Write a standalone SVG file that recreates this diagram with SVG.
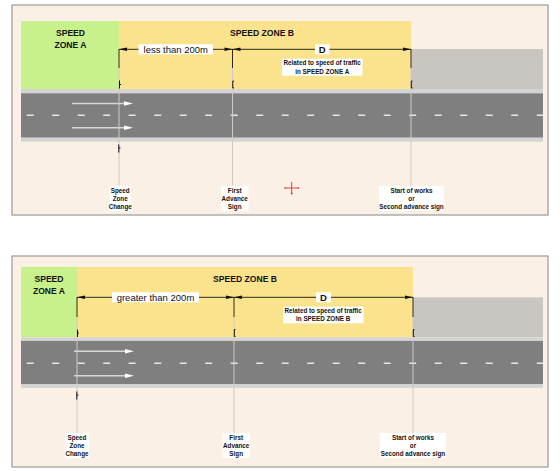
<svg xmlns="http://www.w3.org/2000/svg" width="560" height="471" viewBox="0 0 560 471">
<style>
.frame{fill:#FAF0E6;stroke:#9a9a9a;stroke-width:1.2}
.zoneA{fill:#C8F18C}
.zoneB{fill:#FBE38D}
.works{fill:#C9C6C2}
.edge{fill:#D4D4D4}
.road{fill:#7F7F7F}
.dash{stroke:#E6E6E6;stroke-width:1.6;stroke-dasharray:7 18.5}
.rarrow{stroke:#D8D8D8;stroke-width:1.4}
.rhead{fill:#FFFFFF}
.dim{stroke:#2E2A1A;stroke-width:1;fill:none}
.ext{stroke:#CFCAC4;stroke-width:1;fill:none}
.tick{stroke:#111;stroke-width:1;fill:none}
.ah{fill:#111}
.lbl{fill:#fff}
.zt{font-family:"Liberation Sans",Arial,sans-serif;font-weight:bold;font-size:8.6px;fill:#111;text-anchor:middle}
.dt{font-family:"Liberation Sans",Arial,sans-serif;font-size:9.5px;fill:#111;text-anchor:middle}
.dd{font-family:"Liberation Sans",Arial,sans-serif;font-weight:bold;font-size:9.5px;fill:#111;text-anchor:middle}
.st{font-family:"Liberation Sans",Arial,sans-serif;font-weight:bold;font-size:6.3px;fill:#111;text-anchor:middle}
</style>

<!-- ================= TOP PANEL ================= -->
<g id="panel-top">
  <rect class="frame" x="12" y="5" width="536" height="210"/>
</g>
<g id="zoneA-top">
  <rect class="zoneA" x="21" y="21" width="98" height="68"/>
  <text class="zt" x="70.5" y="36">SPEED</text>
  <text class="zt" x="70.5" y="47.7">ZONE A</text>
</g>
<g id="zoneB-top">
  <rect class="zoneB" x="119" y="21" width="292" height="68"/>
  <text class="zt" x="262" y="36">SPEED ZONE B</text>
</g>
<g id="works-top">
  <rect class="works" x="411" y="49" width="132" height="40"/>
</g>
<g id="road-top">
  <rect class="edge" x="21" y="89" width="522" height="4.3"/>
  <rect class="road" x="21" y="93.3" width="522" height="44.4"/>
  <rect class="edge" x="21" y="137.7" width="522" height="4"/>
  <line class="dash" x1="26.7" y1="115.3" x2="543" y2="115.3"/>
  <line class="rarrow" x1="72" y1="103.5" x2="125" y2="103.5"/>
  <polygon class="rhead" points="124,101.3 133,103.5 124,105.7"/>
  <line class="rarrow" x1="72" y1="127.8" x2="125" y2="127.8"/>
  <polygon class="rhead" points="124,125.6 133,127.8 124,130"/>
</g>

<g id="connectors-top">
  <!-- extension lines -->
  <line class="ext" x1="119" y1="68" x2="119" y2="186"/>
  <line class="ext" x1="232.5" y1="68" x2="232.5" y2="186"/>
  <line class="ext" x1="411" y1="68" x2="411" y2="186"/>
  <!-- dark ends -->
  <line class="dim" x1="119" y1="49" x2="119" y2="68"/>
  <line class="dim" x1="232.5" y1="49" x2="232.5" y2="68"/>
  <line class="dim" x1="411" y1="49" x2="411" y2="68"/>
  <!-- dimension line -->
  <line class="dim" x1="119" y1="49.3" x2="411" y2="49.3"/>
  <polygon class="ah" points="119,49.3 127,47.6 127,51"/>
  <polygon class="ah" points="232.5,49.3 224.5,47.6 224.5,51"/>
  <polygon class="ah" points="232.5,49.3 240.5,47.6 240.5,51"/>
  <polygon class="ah" points="411,49.3 403,47.6 403,51"/>
  <!-- ticks -->
  <path class="tick" d="M119.5,80.5 V88.5 M119.5,84.5 H121"/>
  <path class="tick" d="M234,81 H232.8 V88 H234"/>
  <path class="tick" d="M412.5,81 H411.3 V88 H412.5"/>
  <path class="tick" d="M118.8,144.5 V152.5 M118.8,148 H120.5"/>
</g>

<g id="label-less-top">
  <rect class="lbl" x="138.5" y="44.3" width="74.5" height="10"/>
  <text class="dt" x="175.8" y="52.6">less than 200m</text>
</g>
<g id="label-D-top">
  <rect class="lbl" x="315" y="44.3" width="14.5" height="10"/>
  <text class="dd" x="322.3" y="52.8">D</text>
</g>
<g id="label-related-top">
  <rect class="lbl" x="282" y="58.7" width="80.5" height="17"/>
  <text class="st" x="322.2" y="65">Related to speed of traffic</text>
  <text class="st" x="322.2" y="73.5">in SPEED ZONE A</text>
</g>
<g id="label-szc-top">
  <rect class="lbl" x="109.5" y="186" width="21.5" height="25"/>
  <text class="st" x="120.2" y="192.5">Speed</text>
  <text class="st" x="120.2" y="200.8">Zone</text>
  <text class="st" x="120.2" y="209.2">Change</text>
</g>
<g id="label-fas-top">
  <rect class="lbl" x="221" y="186" width="27.5" height="25"/>
  <text class="st" x="234.7" y="192.5">First</text>
  <text class="st" x="234.7" y="200.8">Advance</text>
  <text class="st" x="234.7" y="209.2">Sign</text>
</g>
<g id="label-sow-top">
  <rect class="lbl" x="379" y="186" width="65" height="25"/>
  <text class="st" x="411.5" y="192.5">Start of works</text>
  <text class="st" x="411.5" y="200.8">or</text>
  <text class="st" x="411.5" y="209.2">Second advance sign</text>
</g>
<g id="cursor">
  <path d="M285,188 H298.5 M291.7,182 V193.5" stroke="#E03030" stroke-width="0.9" fill="none"/>
  <circle cx="285" cy="188" r="0.8" fill="#E03030"/>
  <circle cx="298.5" cy="188" r="0.8" fill="#E03030"/>
  <circle cx="291.7" cy="193.5" r="0.9" fill="#E03030"/>
</g>

<!-- ================= BOTTOM PANEL ================= -->
<g id="panel-bottom">
  <rect class="frame" x="12" y="256" width="536" height="211"/>
</g>
<g id="zoneA-bottom">
  <rect class="zoneA" x="21" y="267" width="56" height="70.3"/>
  <text class="zt" x="49" y="282">SPEED</text>
  <text class="zt" x="49" y="294">ZONE A</text>
</g>
<g id="zoneB-bottom">
  <rect class="zoneB" x="77" y="267" width="336" height="70.3"/>
  <text class="zt" x="245" y="282">SPEED ZONE B</text>
</g>
<g id="works-bottom">
  <rect class="works" x="413" y="297.3" width="130" height="40"/>
</g>
<g id="road-bottom">
  <rect class="edge" x="21" y="337.3" width="522" height="3.6"/>
  <rect class="road" x="21" y="340.9" width="522" height="43.4"/>
  <rect class="edge" x="21" y="384.3" width="522" height="3.6"/>
  <line class="dash" x1="26.7" y1="363.3" x2="543" y2="363.3"/>
  <line class="rarrow" x1="74" y1="351.2" x2="126" y2="351.2"/>
  <polygon class="rhead" points="125,349 134,351.2 125,353.4"/>
  <line class="rarrow" x1="74" y1="375.8" x2="126" y2="375.8"/>
  <polygon class="rhead" points="125,373.6 134,375.8 125,378"/>
</g>

<g id="connectors-bottom">
  <line class="ext" x1="77" y1="317" x2="77" y2="433"/>
  <line class="ext" x1="234" y1="317" x2="234" y2="433"/>
  <line class="ext" x1="413" y1="317" x2="413" y2="433"/>
  <line class="dim" x1="77" y1="297" x2="77" y2="317"/>
  <line class="dim" x1="234" y1="297" x2="234" y2="317"/>
  <line class="dim" x1="413" y1="297" x2="413" y2="317"/>
  <line class="dim" x1="77" y1="297.3" x2="413" y2="297.3"/>
  <polygon class="ah" points="77,297.3 85,295.6 85,299"/>
  <polygon class="ah" points="234,297.3 226,295.6 226,299"/>
  <polygon class="ah" points="234,297.3 242,295.6 242,299"/>
  <polygon class="ah" points="413,297.3 405,295.6 405,299"/>
  <path class="tick" d="M77.5,329.5 V337 M77.5,333 H79"/>
  <path class="tick" d="M235.5,329.5 H234.3 V336.5 H235.5"/>
  <path class="tick" d="M414.5,329.5 H413.3 V336.5 H414.5"/>
  <path class="tick" d="M76.8,391.5 V399.5 M76.8,395 H78.5"/>
</g>

<g id="label-greater-bottom">
  <rect class="lbl" x="112" y="292.3" width="87" height="10"/>
  <text class="dt" x="155.5" y="300.6">greater than 200m</text>
</g>
<g id="label-D-bottom">
  <rect class="lbl" x="316" y="292.3" width="15" height="10"/>
  <text class="dd" x="323.5" y="300.8">D</text>
</g>
<g id="label-related-bottom">
  <rect class="lbl" x="283" y="306.7" width="80.5" height="16.6"/>
  <text class="st" x="323.2" y="313">Related to speed of traffic</text>
  <text class="st" x="323.2" y="321.3">in SPEED ZONE B</text>
</g>
<g id="label-szc-bottom">
  <rect class="lbl" x="65" y="433" width="24" height="25"/>
  <text class="st" x="77" y="439.5">Speed</text>
  <text class="st" x="77" y="447.8">Zone</text>
  <text class="st" x="77" y="456.2">Change</text>
</g>
<g id="label-fas-bottom">
  <rect class="lbl" x="222.5" y="433" width="27.5" height="25"/>
  <text class="st" x="236.2" y="439.5">First</text>
  <text class="st" x="236.2" y="447.8">Advance</text>
  <text class="st" x="236.2" y="456.2">Sign</text>
</g>
<g id="label-sow-bottom">
  <rect class="lbl" x="380" y="433" width="66" height="25"/>
  <text class="st" x="413" y="439.5">Start of works</text>
  <text class="st" x="413" y="447.8">or</text>
  <text class="st" x="413" y="456.2">Second advance sign</text>
</g>
</svg>
